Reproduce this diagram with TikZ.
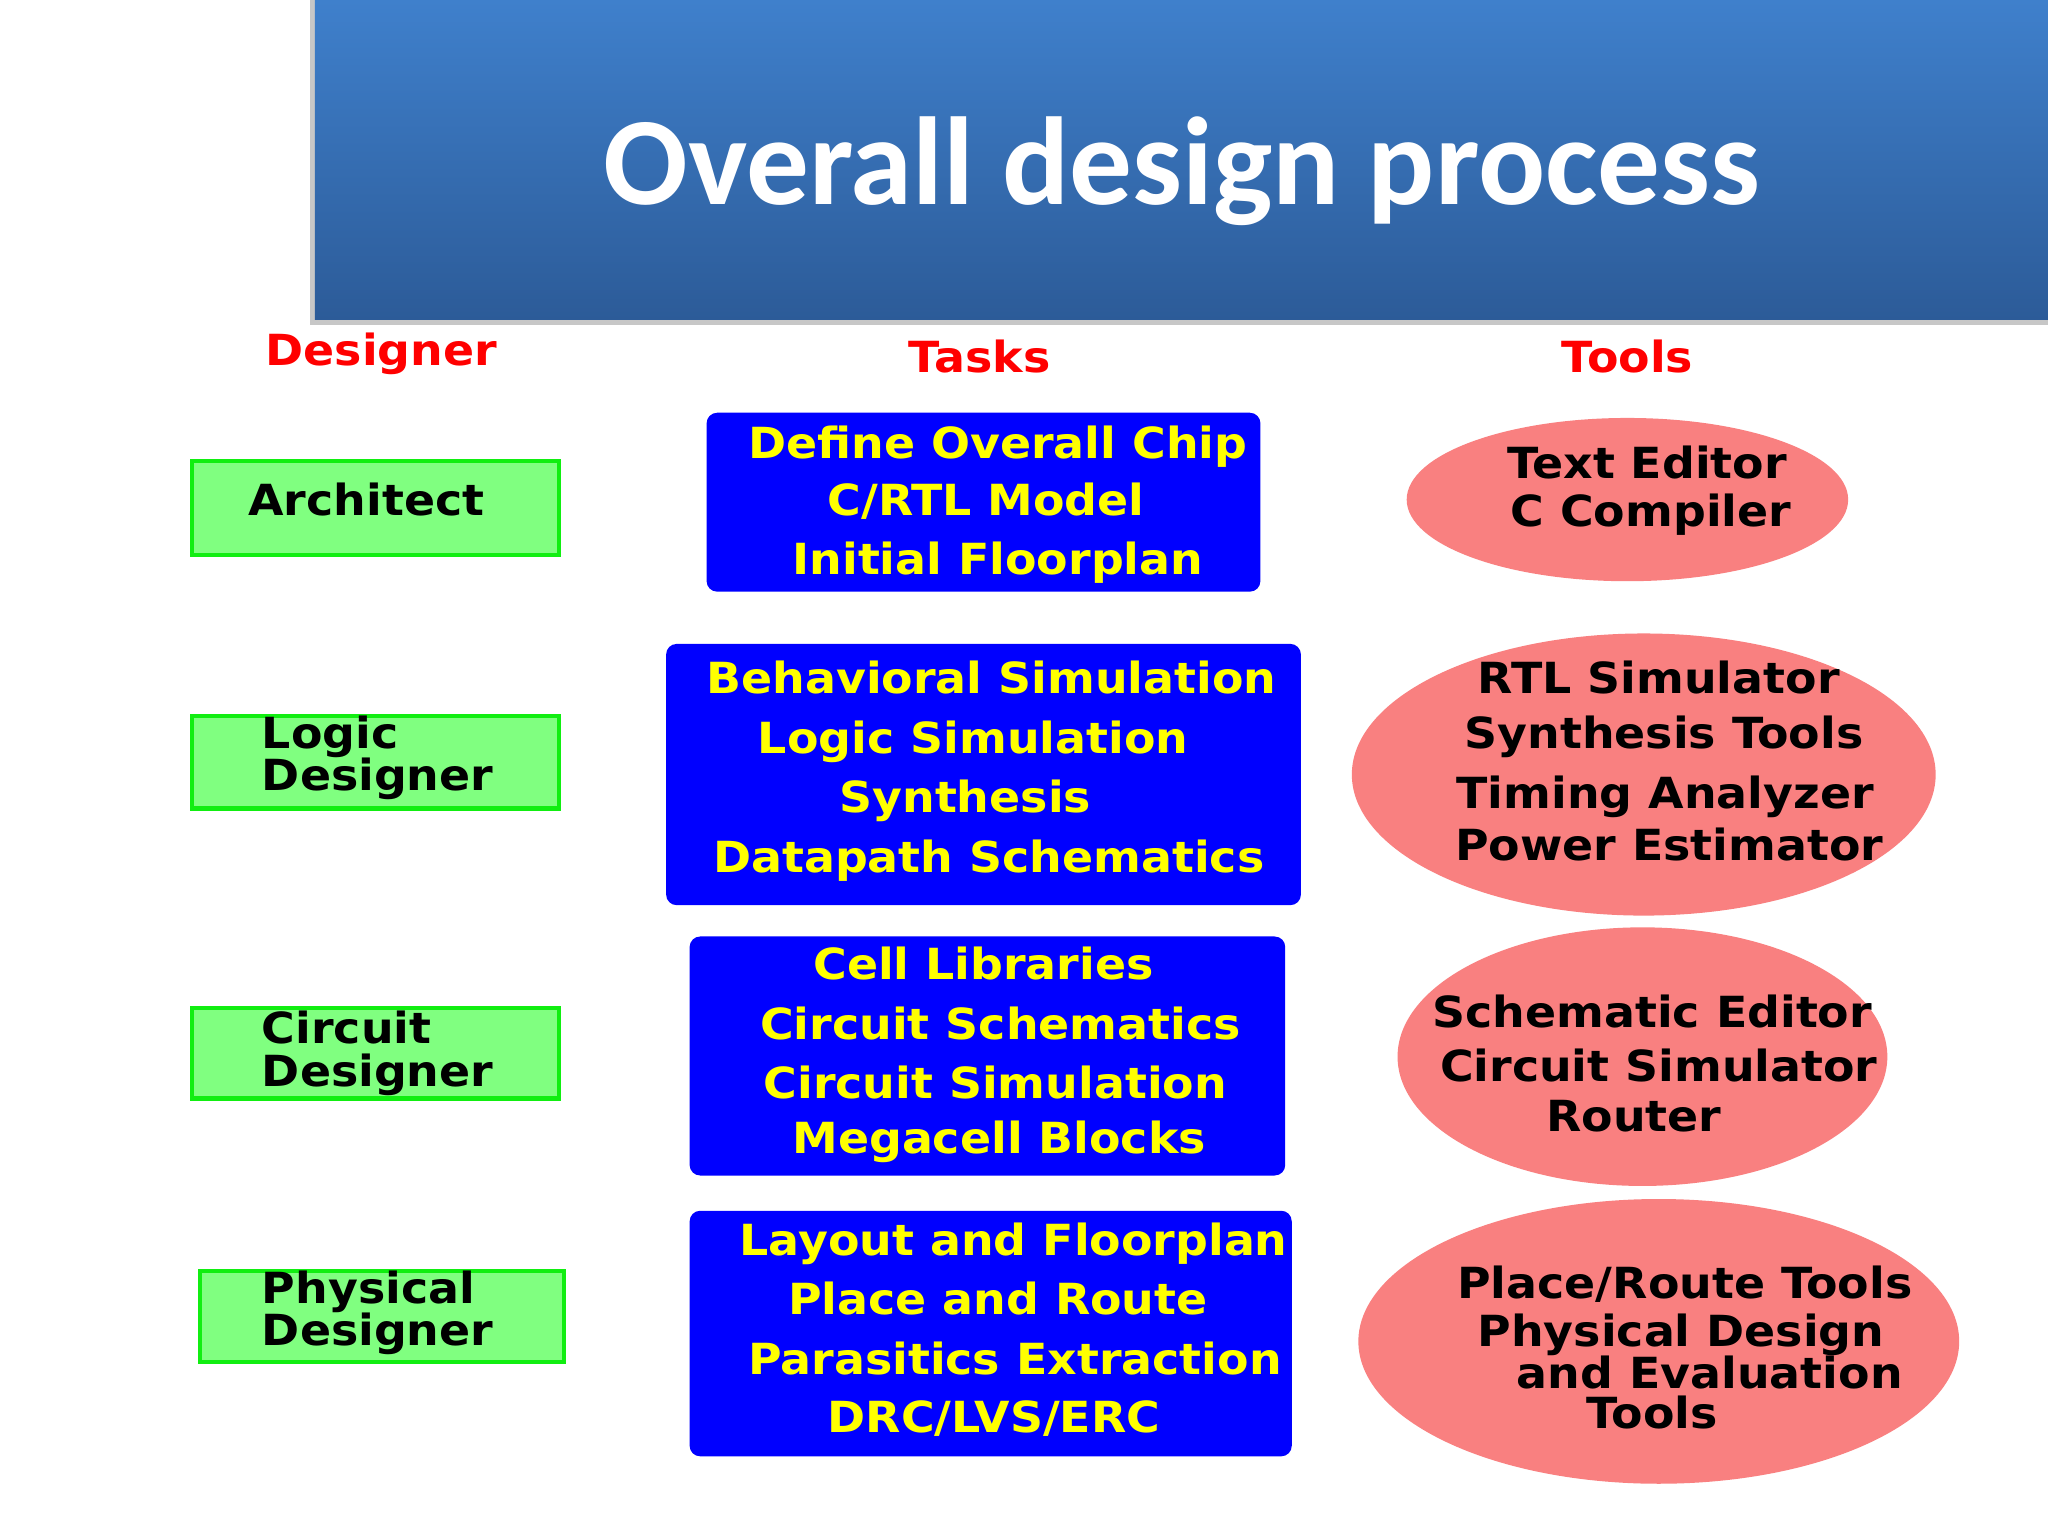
\documentclass[tikz,border=0pt]{standalone}
\usepackage{fontspec}
\setmainfont{DejaVu Sans}
\newfontfamily\boxfont{DejaVu Sans}[FakeStretch=1.07]
\newfontfamily\titlefont{Carlito}
\usetikzlibrary{shapes.geometric}
\definecolor{bannertop}{HTML}{3F80CC}
\definecolor{bannerbot}{HTML}{2C5B98}
\definecolor{boxgreen}{HTML}{80FF80}
\definecolor{edgegreen}{HTML}{11EE11}
\definecolor{taskblue}{HTML}{0000FF}
\definecolor{taskyellow}{HTML}{FFFF00}
\definecolor{toolpink}{HTML}{F98080}
\definecolor{headred}{HTML}{FF0000}
\newcommand\dpx{0.013061cm}
\tikzset{
  designerbox/.style={rectangle, draw=edgegreen, line width=1.2pt, fill=boxgreen, inner sep=0pt},
  taskbox/.style={rectangle, fill=taskblue, rounded corners=3pt, inner sep=0pt},
  toolell/.style={ellipse, fill=toolpink, inner sep=0pt},
  basetext/.style={font=\boxfont\bfseries\fontsize{12.2}{14}\selectfont, inner sep=0pt, anchor=mid, yshift=-1pt},
  headtext/.style={basetext, text=headred},
  dtext/.style={basetext, text=black},
  ttext/.style={basetext, text=taskyellow},
  otext/.style={basetext, text=black},
}
\begin{document}
\begin{tikzpicture}[x=\dpx, y=-\dpx]
\useasboundingbox (0,0) rectangle (1568,1176);
\fill[white] (0,0) rectangle (1568,1176);
% banner
\node[rectangle, fill=black!22, inner sep=0pt, minimum width=1331*\dpx, minimum height=249*\dpx] (shadow) at (902.5,124.5) {};
\node[rectangle, top color=bannertop, bottom color=bannerbot, inner sep=0pt, minimum width=1327*\dpx, minimum height=245*\dpx] (banner) at (904.5,122.5) {};
\node[font=\titlefont\bfseries\fontsize{35.6}{40}\selectfont, text=white, inner sep=0pt, anchor=mid] (title) at (905,149) {Overall design process};
% headers
\node[headtext] (hdes) at (292,270) {Designer};
\node[headtext] (htask) at (750,275) {Tasks};
\node[headtext] (htool) at (1246,275) {Tools};
% designer boxes
\node[designerbox, minimum width=281*\dpx, minimum height=72*\dpx] (arch) at (287.5,389) {};
\node[designerbox, minimum width=281*\dpx, minimum height=71*\dpx] (logic) at (287.5,583.5) {};
\node[designerbox, minimum width=281*\dpx, minimum height=69*\dpx] (circ) at (287.5,806.5) {};
\node[designerbox, minimum width=279*\dpx, minimum height=70*\dpx] (phys) at (292.5,1008) {};
\node[dtext] (archt) at (280.5,385) {Architect};
\node[dtext, anchor=mid west] (logt1) at (200,563) {Logic};
\node[dtext, anchor=mid west] (logt2) at (200,595) {Designer};
\node[dtext, anchor=mid west] (cirt1) at (200,789) {Circuit};
\node[dtext, anchor=mid west] (cirt2) at (200,822) {Designer};
\node[dtext, anchor=mid west] (phyt1) at (200,988) {Physical};
\node[dtext, anchor=mid west] (phyt2) at (200,1020) {Designer};
% task boxes
\node[taskbox, minimum width=424*\dpx, minimum height=137*\dpx] (t1) at (753,384.5) {};
\node[taskbox, minimum width=486*\dpx, minimum height=200*\dpx] (t2) at (753,593) {};
\node[taskbox, minimum width=456*\dpx, minimum height=183*\dpx] (t3) at (756,808.5) {};
\node[taskbox, minimum width=461*\dpx, minimum height=188*\dpx] (t4) at (758.5,1021) {};
\node[ttext] (t1a) at (764,341) {Define Overall Chip};
\node[ttext] (t1b) at (755,385) {C/RTL Model};
\node[ttext] (t1c) at (764,430) {Initial Floorplan};
\node[ttext] (t2a) at (759,521) {Behavioral Simulation};
\node[ttext] (t2b) at (745,567) {Logic Simulation};
\node[ttext] (t2c) at (739,612) {Synthesis};
\node[ttext] (t2d) at (757,658) {Datapath Schematics};
\node[ttext] (t3a) at (753,740) {Cell Libraries};
\node[ttext] (t3b) at (766,786) {Circuit Schematics};
\node[ttext] (t3c) at (762,831) {Circuit Simulation};
\node[ttext] (t3d) at (765,873) {Megacell Blocks};
\node[ttext] (t4a) at (776,951) {Layout and Floorplan};
\node[ttext] (t4b) at (764,996) {Place and Route};
\node[ttext] (t4c) at (777,1042) {Parasitics Extraction};
\node[ttext] (t4d) at (761,1087) {DRC/LVS/ERC};
% tool ellipses
\node[toolell, minimum width=338*\dpx, minimum height=125*\dpx] (e1) at (1246,382.5) {};
\node[toolell, minimum width=447*\dpx, minimum height=216*\dpx] (e2) at (1258.5,593) {};
\node[toolell, minimum width=375*\dpx, minimum height=198*\dpx] (e3) at (1257.5,809) {};
\node[toolell, minimum width=460*\dpx, minimum height=218*\dpx] (e4) at (1270,1027) {};
\node[otext] (e1a) at (1261,356) {Text Editor};
\node[otext] (e1b) at (1264,393) {C Compiler};
\node[otext] (e2a) at (1270,521) {RTL Simulator};
\node[otext] (e2b) at (1274,563) {Synthesis Tools};
\node[otext] (e2c) at (1275,609) {Timing Analyzer};
\node[otext] (e2d) at (1278,649) {Power Estimator};
\node[otext] (e3a) at (1265,777) {Schematic Editor};
\node[otext] (e3b) at (1270,818) {Circuit Simulator};
\node[otext] (e3c) at (1251,856) {Router};
\node[otext] (e4a) at (1290,984) {Place/Route Tools};
\node[otext] (e4b) at (1287,1021) {Physical Design};
\node[otext] (e4c) at (1309,1053) {and Evaluation};
\node[otext] (e4d) at (1265,1084) {Tools};
\end{tikzpicture}
\end{document}
